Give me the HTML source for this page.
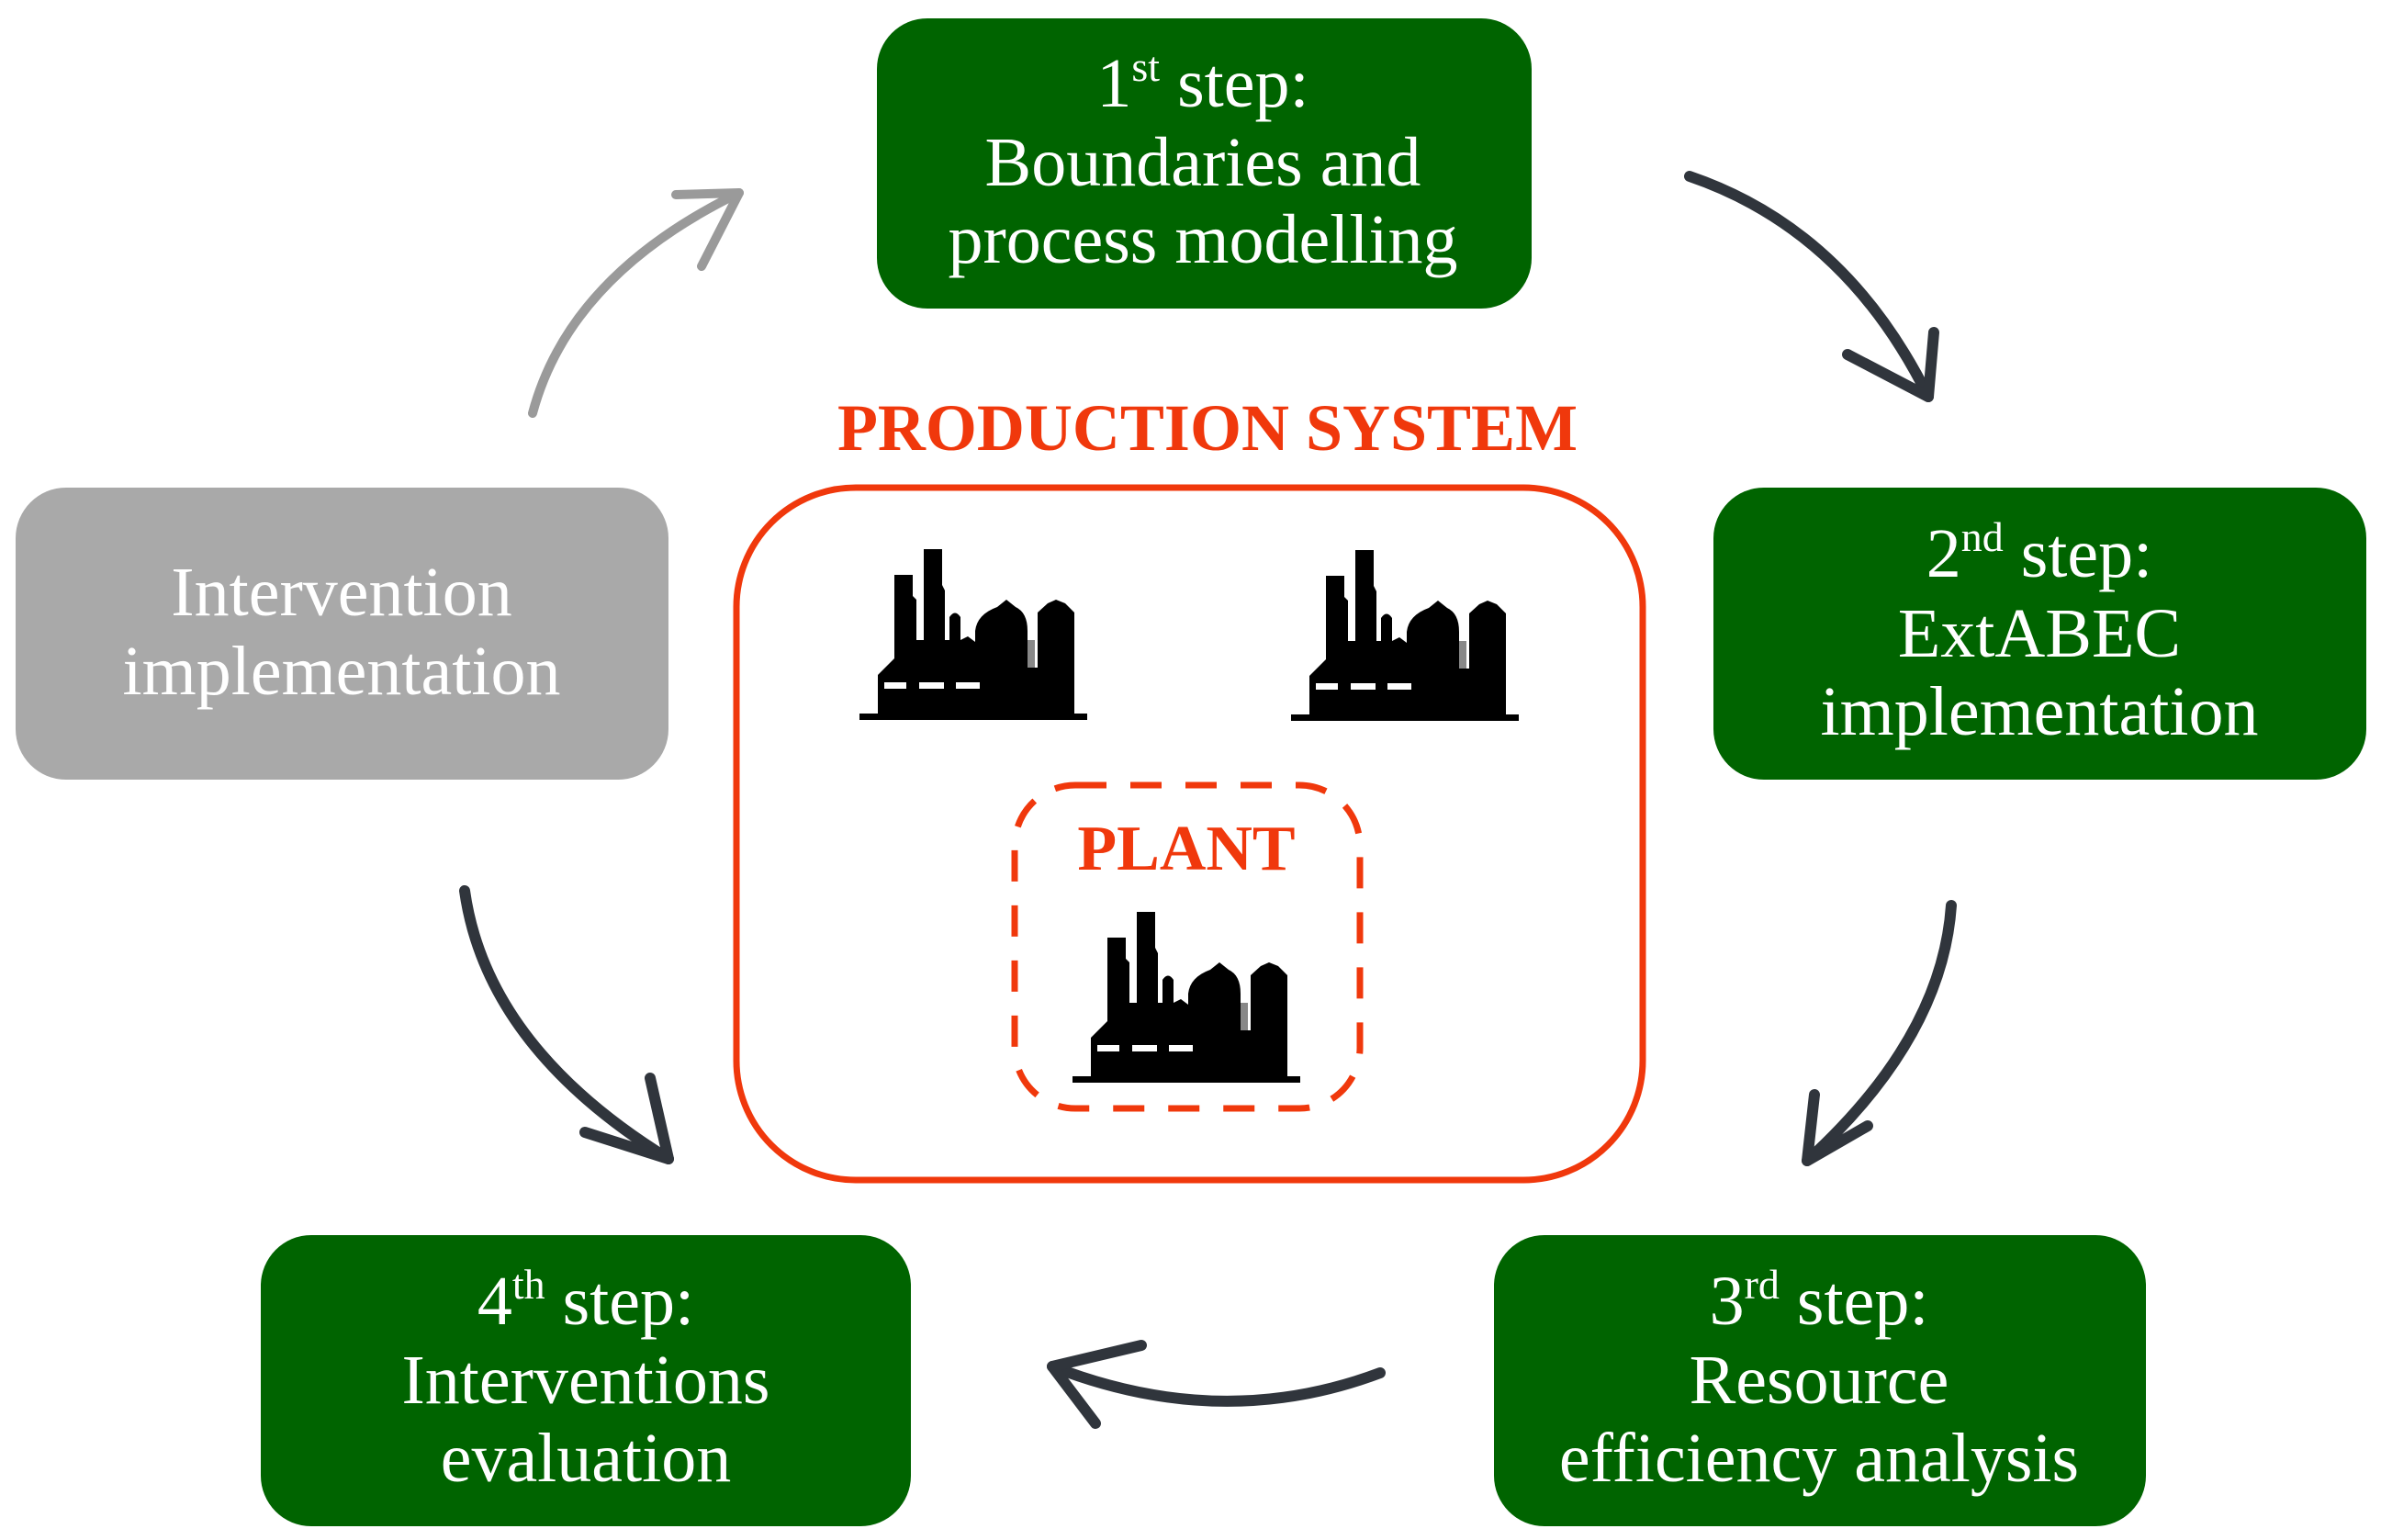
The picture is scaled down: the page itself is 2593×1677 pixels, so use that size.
<!DOCTYPE html>
<html><head><meta charset="utf-8"><style>
html,body{margin:0;padding:0;background:#fff;}
svg{display:block;}
.t{font-family:"Liberation Serif",serif;font-size:76px;fill:#fff;text-anchor:middle;}
.s{font-size:46px;}
.r{font-family:"Liberation Serif",serif;font-weight:bold;fill:#f0380c;text-anchor:middle;}
.a{fill:none;stroke:#30353c;stroke-width:12;stroke-linecap:round;stroke-linejoin:round;}
.g{fill:none;stroke:#9a9a9a;stroke-width:10;stroke-linecap:round;stroke-linejoin:round;}
</style></head><body>
<svg width="2593" height="1677" viewBox="0 0 2593 1677" xmlns="http://www.w3.org/2000/svg">
<defs>
<g id="fac">
<path fill="#000" d="M0,180 H248 V187 H0 Z M20,180 V138 L38,120 V29 H58 V52 L62,56 V100 H70 V1 H90 V40 L93,46 V100 H98 V75 Q104,66 110,75 V100 L118,96 L126,102 V90 Q128,72 150,64 L160,56 L170,64 Q183,70 183,90 V130 H194 V70 L205,60 L214,56 L224,60 L234,70 V180 Z"/>
<rect x="27" y="146" width="24" height="7" fill="#fff"/>
<rect x="65" y="146" width="27" height="7" fill="#fff"/>
<rect x="105" y="146" width="26" height="7" fill="#fff"/>
<rect x="183" y="100" width="8" height="30" fill="#888"/>
</g>
</defs>

<rect x="955" y="20" width="713" height="316" rx="55" fill="#006400"/>
<rect x="1866" y="531" width="711" height="318" rx="55" fill="#006400"/>
<rect x="1627" y="1345" width="710" height="317" rx="55" fill="#006400"/>
<rect x="284" y="1345" width="708" height="317" rx="55" fill="#006400"/>
<rect x="17" y="531" width="711" height="318" rx="55" fill="#a9a9a9"/>

<text class="t" x="1310" y="116">1<tspan class="s" dy="-28">st</tspan><tspan dy="28"> step:</tspan></text>
<text class="t" x="1310" y="202">Boundaries and</text>
<text class="t" x="1310" y="286">process modelling</text>

<text class="t" x="2221" y="628">2<tspan class="s" dy="-28">nd</tspan><tspan dy="28"> step:</tspan></text>
<text class="t" x="2221" y="715">ExtABEC</text>
<text class="t" x="2221" y="800">implementation</text>

<text class="t" x="1981" y="1442">3<tspan class="s" dy="-28">rd</tspan><tspan dy="28"> step:</tspan></text>
<text class="t" x="1981" y="1528">Resource</text>
<text class="t" x="1981" y="1613">efficiency analysis</text>

<text class="t" x="638" y="1442">4<tspan class="s" dy="-28">th</tspan><tspan dy="28"> step:</tspan></text>
<text class="t" x="638" y="1528">Interventions</text>
<text class="t" x="638" y="1613">evaluation</text>

<text class="t" x="372" y="670">Intervention</text>
<text class="t" x="372" y="756">implementation</text>

<text class="r" x="1315" y="490" font-size="72">PRODUCTION SYSTEM</text>
<rect x="802" y="531" width="987" height="754" rx="130" fill="none" stroke="#f0380c" stroke-width="7"/>
<rect x="1105" y="855" width="376" height="352" rx="66" fill="none" stroke="#f0380c" stroke-width="7" stroke-dasharray="34,26"/>
<text class="r" x="1292" y="947" font-size="70">PLANT</text>

<use href="#fac" x="936" y="597"/>
<use href="#fac" x="1406" y="598"/>
<use href="#fac" x="1168" y="992"/>

<path class="a" d="M1840,192 Q2010,250 2100,432"/>
<path class="a" d="M2012,386 L2100,432 L2106,362"/>

<path class="a" d="M2125,986 Q2115,1130 1968,1264"/>
<path class="a" d="M1976,1192 L1968,1264 L2034,1226"/>

<path class="a" d="M1503,1495 Q1330,1560 1146,1488"/>
<path class="a" d="M1243,1465 L1146,1488 L1193,1550"/>

<path class="a" d="M506,970 Q530,1140 728,1262"/>
<path class="a" d="M637,1233 L728,1262 L708,1174"/>

<path class="g" d="M580,450 Q620,300 805,210"/>
<path class="g" d="M736,212 L805,210 L764,290"/>
</svg>
</body></html>
